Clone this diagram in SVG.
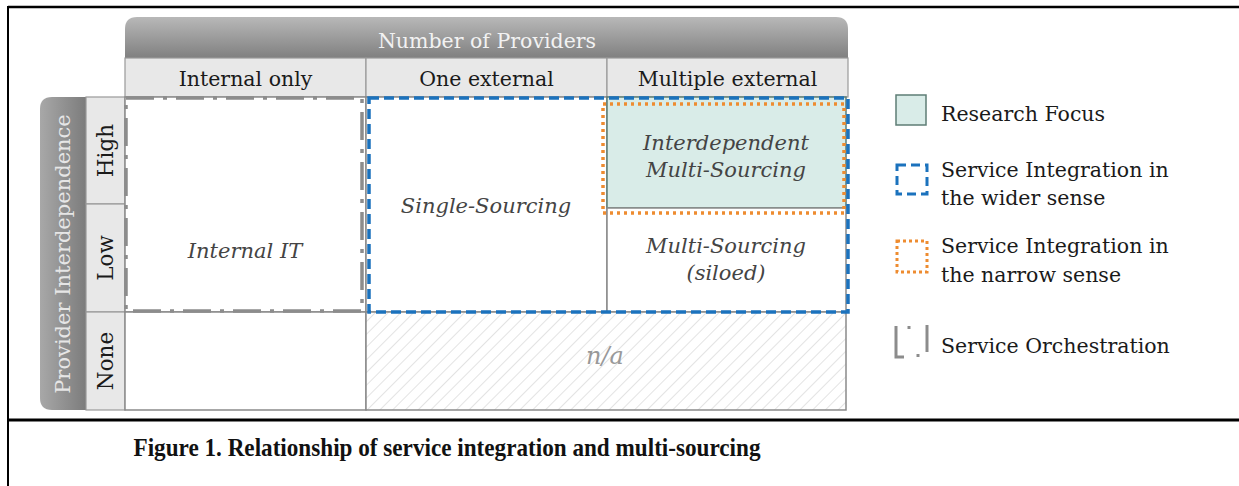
<svg xmlns="http://www.w3.org/2000/svg" width="1239" height="486" viewBox="0 0 1239 486">
<style>
.t{font-family:"DejaVu Serif","Liberation Serif",serif;font-size:20.5px;fill:#1a1a1a}
.c{font-family:"DejaVu Serif","Liberation Serif",serif;font-size:21px;font-style:italic;fill:#444;text-anchor:middle}
.hd{fill:#e8e8e8;stroke:#999;stroke-width:1.2}
.cell{fill:#fff;stroke:#8a8a8a;stroke-width:1.5}
.blue{fill:none;stroke:#1b72bd;stroke-width:3.5;stroke-dasharray:10 5}
.orange{fill:none;stroke:#ee8c30;stroke-width:3.5;stroke-dasharray:3 4}
.gray{fill:none;stroke:#8c8c8c;stroke-width:3.5;stroke-dasharray:28 9 4 9}
</style>
<defs>
<linearGradient id="gTop" x1="0" y1="0" x2="0" y2="1">
<stop offset="0" stop-color="#b8b8b8"/><stop offset="1" stop-color="#808080"/>
</linearGradient>
<linearGradient id="gLeft" x1="0" y1="0" x2="1" y2="0">
<stop offset="0" stop-color="#a8a8a8"/><stop offset="1" stop-color="#7c7c7c"/>
</linearGradient>
<pattern id="hatch" patternUnits="userSpaceOnUse" width="9" height="9" patternTransform="rotate(45)">
<rect width="9" height="9" fill="#fff"/>
<line x1="0" y1="0" x2="0" y2="9" stroke="#e3e3e3" stroke-width="2"/>
</pattern>
</defs>
<rect width="1239" height="486" fill="#fff"/>
<g id="frame" stroke="#000" fill="none">
<line x1="8" y1="7" x2="1239" y2="7" stroke-width="2.5"/>
<line x1="8" y1="6" x2="8" y2="486" stroke-width="2"/>
<line x1="8" y1="420" x2="1239" y2="420" stroke-width="3"/>
</g>
<g id="header-providers">
<path d="M125 58 V29 Q125 17 137 17 H836 Q848 17 848 29 V58 Z" fill="url(#gTop)"/>
<text x="487" y="48" text-anchor="middle" style="font-family:'DejaVu Serif','Liberation Serif',serif;font-size:20.5px;fill:#f2f2f2">Number of Providers</text>
</g>
<g id="header-interdependence">
<path d="M86 97 H52 Q40 97 40 109 V398 Q40 410 52 410 H86 Z" fill="url(#gLeft)"/>
<text transform="translate(70 254) rotate(-90)" text-anchor="middle" style="font-family:'DejaVu Serif','Liberation Serif',serif;font-size:21px;fill:#e6e6e6">Provider Interdependence</text>
</g>
<g id="col-internal-only"><rect class="hd" x="125" y="58" width="241" height="39"/><text class="t" x="245.5" y="86" text-anchor="middle">Internal only</text></g>
<g id="col-one-external"><rect class="hd" x="366" y="58" width="241" height="39"/><text class="t" x="486.5" y="86" text-anchor="middle">One external</text></g>
<g id="col-multiple-external"><rect class="hd" x="607" y="58" width="241" height="39"/><text class="t" x="727.5" y="86" text-anchor="middle">Multiple external</text></g>
<g id="row-high"><rect class="hd" x="86" y="97" width="39" height="107"/><text class="t" transform="translate(113 150.5) rotate(-90)" text-anchor="middle" style="font-size:21.5px">High</text></g>
<g id="row-low"><rect class="hd" x="86" y="204" width="39" height="108"/><text class="t" transform="translate(113 258) rotate(-90)" text-anchor="middle" style="font-size:21.5px">Low</text></g>
<g id="row-none"><rect class="hd" x="86" y="312" width="39" height="98"/><text class="t" transform="translate(113 361) rotate(-90)" text-anchor="middle" style="font-size:21.5px">None</text></g>
<g id="cell-internal-it"><rect class="cell" x="125" y="97" width="241" height="215"/><text class="c" x="245" y="258">Internal IT</text></g>
<g id="cell-internal-none"><rect class="cell" x="125" y="312" width="241" height="98"/></g>
<g id="cell-single-sourcing"><rect class="cell" x="366" y="97" width="241" height="215"/><text class="c" x="486" y="213">Single-Sourcing</text></g>
<g id="cell-interdependent"><rect x="607" y="97" width="239" height="111" fill="#d9ece8" stroke="#5e7d75" stroke-width="1.5"/><text class="c" x="726" y="150">Interdependent</text><text class="c" x="726" y="177">Multi-Sourcing</text></g>
<g id="cell-siloed"><rect class="cell" x="607" y="208" width="239" height="104"/><text class="c" x="726" y="253">Multi-Sourcing</text><text class="c" x="726" y="280">(siloed)</text></g>
<g id="cell-na"><rect x="366" y="312" width="480" height="98" fill="url(#hatch)" stroke="#8a8a8a" stroke-width="1.5"/><text class="c" x="605" y="364" style="fill:#999;font-size:24px">n/a</text></g>
<g id="connectors">
<rect class="gray" x="126" y="98" width="236" height="213"/>
<rect class="blue" x="369" y="98" width="479" height="214"/>
<rect class="orange" x="603" y="104" width="241" height="109"/>
</g>
<g id="legend-research-focus"><rect x="896" y="95" width="30" height="30" fill="#d9ece8" stroke="#5e7d75" stroke-width="1.5"/><text class="t" x="941" y="121">Research Focus</text></g>
<g id="legend-wider"><rect x="897" y="165" width="30" height="29" fill="none" stroke="#1b72bd" stroke-width="3" stroke-dasharray="9 5"/><text class="t" x="941" y="177">Service Integration in</text><text class="t" x="941" y="205">the wider sense</text></g>
<g id="legend-narrow"><rect x="897" y="241" width="30" height="31" fill="none" stroke="#ee8c30" stroke-width="3" stroke-dasharray="3 3"/><text class="t" x="941" y="253">Service Integration in</text><text class="t" x="941" y="282">the narrow sense</text></g>
<g id="legend-orchestration" stroke="#8c8c8c" stroke-width="3" fill="none"><path d="M896 326 V357 H904"/><path d="M909 326 V329"/><path d="M927 325 V352"/><path d="M918 354 V357"/><text class="t" x="941" y="353" stroke="none">Service Orchestration</text></g>
<g id="caption"><text x="447" y="456" text-anchor="middle" textLength="627" lengthAdjust="spacingAndGlyphs" style="font-family:'Liberation Serif',serif;font-weight:bold;font-size:25px;fill:#111">Figure 1. Relationship of service integration and multi-sourcing</text></g>
</svg>
